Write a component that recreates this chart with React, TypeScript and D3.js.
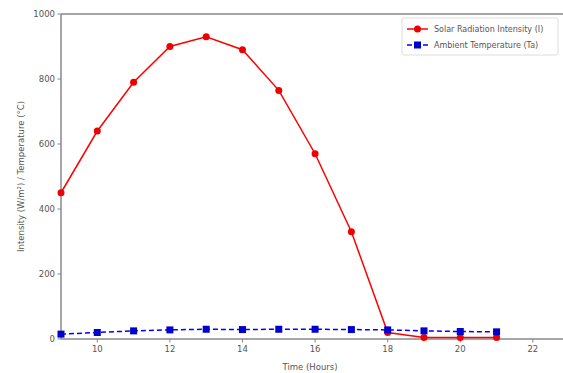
import React from "react";
import * as d3 from "d3";

const hours = [9, 10, 11, 12, 13, 14, 15, 16, 17, 18, 19, 20, 21];
const solar = [450, 640, 790, 900, 930, 890, 765, 570, 330, 20, 5, 5, 5];
const temp = [15, 20, 25, 28, 30, 29, 30, 30, 29, 28, 25, 23, 22];
const xTicks = [10, 12, 14, 16, 18, 20, 22];
const yTicks = [0, 200, 400, 600, 800, 1000];
const seriesNames = ["Solar Radiation Intensity (I)", "Ambient Temperature (Ta)"];

const W = 563, H = 373;
const m = { left: 61, top: 14, right: 0, bottom: 34 };

export default function App() {
  const x = d3.scaleLinear().domain([9, 22.83]).range([m.left, W - m.right]);
  const y = d3.scaleLinear().domain([0, 1000]).range([H - m.bottom, m.top]);
  const line = d3.line<number>().x((_, i) => x(hours[i])).y((d) => y(d));
  const font = "DejaVu Sans, sans-serif";
  const tc = "#555";
  return (
    <svg width={W} height={H} style={{ position: "absolute", left: 0, top: 0, background: "#fff" }}>
      <rect x={0} y={0} width={W} height={H} fill="#fff" />
      {/* spines */}
      <line x1={m.left} x2={W} y1={m.top} y2={m.top} stroke="#888" strokeWidth={1.5} />
      <line x1={m.left} x2={W} y1={H - m.bottom} y2={H - m.bottom} stroke="#888" strokeWidth={1.5} />
      <line x1={m.left} x2={m.left} y1={m.top} y2={H - m.bottom} stroke="#888" strokeWidth={1.5} />
      {yTicks.map((t) => (
        <g key={t}>
          <line x1={m.left - 3.5} x2={m.left} y1={y(t)} y2={y(t)} stroke="#888" />
          <text x={m.left - 6} y={y(t)} dy="0.35em" textAnchor="end" fontSize={8.5} fill={tc} fontFamily={font}>{t}</text>
        </g>
      ))}
      {xTicks.map((t) => (
        <g key={t}>
          <line x1={x(t)} x2={x(t)} y1={H - m.bottom} y2={H - m.bottom + 3.5} stroke="#888" />
          <text x={x(t)} y={H - m.bottom + 13} textAnchor="middle" fontSize={8.5} fill={tc} fontFamily={font}>{t}</text>
        </g>
      ))}
      <text x={310} y={370} textAnchor="middle" fontSize={8.5} fill={tc} fontFamily={font}>Time (Hours)</text>
      <text transform={`translate(24,${(m.top + H - m.bottom) / 2}) rotate(-90)`} textAnchor="middle" fontSize={8.5} fill={tc} fontFamily={font}>
        Intensity (W/m²) / Temperature (°C)
      </text>
      {/* series */}
      <path d={line(solar) || ""} fill="none" stroke="#f00" strokeWidth={1.5} />
      {solar.map((v, i) => (
        <circle key={i} cx={x(hours[i])} cy={y(v)} r={3.5} fill="#e00" />
      ))}
      <path d={line(temp) || ""} fill="none" stroke="#00f" strokeWidth={1.5} strokeDasharray="5,3" />
      {temp.map((v, i) => (
        <rect key={i} x={x(hours[i]) - 3.5} y={y(v) - 3.5} width={7} height={7} fill="#00c" />
      ))}
      {/* legend */}
      <rect x={402} y={18} width={156} height={37} fill="#fff" stroke="#ddd" rx={2} />
      <line x1={407} x2={428} y1={29} y2={29} stroke="#f00" strokeWidth={1.5} />
      <circle cx={417.5} cy={29} r={3.5} fill="#e00" />
      <text x={434} y={29} dy="0.35em" fontSize={8} fill={tc} fontFamily={font}>{seriesNames[0]}</text>
      <line x1={407} x2={428} y1={45} y2={45} stroke="#00f" strokeWidth={1.5} strokeDasharray="5,3" />
      <rect x={414} y={41.5} width={7} height={7} fill="#00c" />
      <text x={434} y={45} dy="0.35em" fontSize={8} fill={tc} fontFamily={font}>{seriesNames[1]}</text>
    </svg>
  );
}
